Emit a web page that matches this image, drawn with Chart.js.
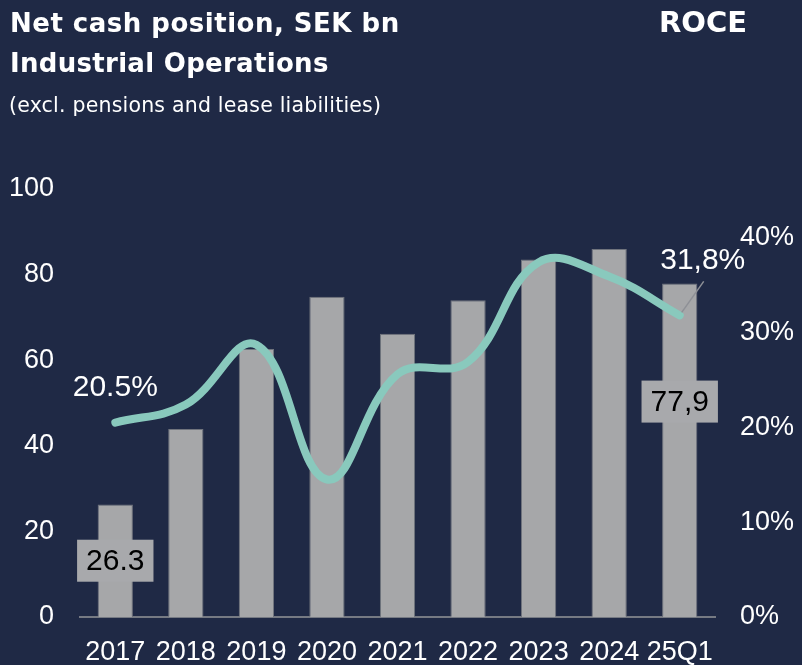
<!DOCTYPE html>
<html>
<head>
<meta charset="utf-8">
<script src="https://cdn.jsdelivr.net/npm/chart.js@4"></script>
<style>
  html, body { margin: 0; padding: 0; background: #1f2945; }
  #wrap { position: relative; width: 802px; height: 665px; overflow: hidden; }
  #chart { position: absolute; left: 0; top: 0; }
  .t { position: absolute; color: #ffffff; font-family: "DejaVu Sans", sans-serif; line-height: 1; white-space: nowrap; }
</style>
</head>
<body>
<div id="wrap">
  <canvas id="chart" width="802" height="665"></canvas>
  <div class="t" style="left:10px; top:10px; font-size:26px; font-weight:700; letter-spacing:0.5px;">Net cash position, SEK bn</div>
  <div class="t" style="left:10px; top:50px; font-size:26px; font-weight:700; letter-spacing:0.3px;">Industrial Operations</div>
  <div class="t" style="left:9px; top:95px; font-size:20.5px; letter-spacing:0.2px;">(excl. pensions and lease liabilities)</div>
  <div class="t" style="left:659px; top:8px; font-size:29px; font-weight:700;">ROCE</div>
</div>
<script>
// Net cash position (SEK bn) and ROCE (%)

const categories = ["2017", "2018", "2019", "2020", "2021", "2022", "2023", "2024", "25Q1"];

const netCash = [26.3, 43.9, 62.6, 74.8, 66.2, 74.0, 83.5, 86.0, 77.9];

const roce = [20.5, 22.4, 28.7, 14.5, 25.6, 26.9, 37.4, 35.9, 31.8];

const leftTicks = [0, 20, 40, 60, 80, 100];
const rightTicks = [0, 10, 20, 30, 40];

// labels written on the chart
const barLabels = { 0: "26.3", 8: "77,9" };
const lineLabels = { 0: "20.5%", 8: "31,8%" };

const tickFont = { family: "'Liberation Sans', Arial, sans-serif", size: 27 };

// ===============================
// Value labels plugin
// ===============================

const labelPlugin = {
    id: "labels",
    afterDatasetsDraw(chart) {
        const ctx = chart.ctx;
        const x = chart.scales.x;
        const yL = chart.scales.y;
        const yR = chart.scales.y2;

        ctx.save();
        ctx.font = "30px 'Liberation Sans', Arial, sans-serif";
        ctx.textBaseline = "middle";
        ctx.textAlign = "center";

        // bar value boxes
        Object.keys(barLabels).forEach(function (k) {
            const i = Number(k);
            const cx = x.getPixelForValue(i);
            let cy;
            if (i === 0) {
                cy = yL.getPixelForValue(netCash[i] / 2);
            } else {
                cy = yL.getPixelForValue(netCash[i]) + 118;
            }
            const w = ctx.measureText(barLabels[k]).width + 18;
            ctx.fillStyle = "#a8a9ac";
            ctx.fillRect(cx - w / 2, cy - 21, w, 42);
            ctx.fillStyle = "#000000";
            ctx.fillText(barLabels[k], cx, cy + 1);
        });

        // line value labels
        ctx.fillStyle = "#ffffff";
        const p0x = x.getPixelForValue(0);
        const p0y = yR.getPixelForValue(roce[0]);
        ctx.fillText(lineLabels[0], p0x, p0y - 35);

        const p8x = x.getPixelForValue(8);
        const p8y = yR.getPixelForValue(roce[8]);
        ctx.fillText(lineLabels[8], p8x + 23, p8y - 55);

        ctx.strokeStyle = "#8e9096";
        ctx.lineWidth = 1.5;
        ctx.beginPath();
        ctx.moveTo(p8x + 24, p8y - 34);
        ctx.lineTo(p8x + 2, p8y - 3);
        ctx.stroke();

        ctx.restore();
    }
};

// ===============================
// Chart
// ===============================

const chart = new Chart(document.getElementById("chart").getContext("2d"), {
    type: "bar",
    data: {
        labels: categories,
        datasets: [
            {
                type: "line",
                label: "ROCE",
                data: roce,
                yAxisID: "y2",
                borderColor: "#89c9bd",
                borderWidth: 8,
                borderCapStyle: "round",
                pointRadius: 0,
                tension: 0.4,
                fill: false,
                order: 0
            },
            {
                label: "Net cash",
                data: netCash,
                yAxisID: "y",
                backgroundColor: "#a6a7a9",
                borderColor: "#70747d",
                borderWidth: 1,
                categoryPercentage: 1,
                barPercentage: 0.5,
                order: 1
            }
        ]
    },
    options: {
        responsive: false,
        animation: false,
        layout: { padding: { top: 189, left: 0, right: 0, bottom: 0 } },
        plugins: {
            legend: { display: false },
            tooltip: { enabled: false }
        },
        scales: {
            x: {
                grid: { display: false, drawTicks: false },
                border: { display: true, color: "#767a83", width: 2 },
                ticks: { color: "#ffffff", font: tickFont, padding: 19, maxRotation: 0, autoSkip: false },
                afterFit: function (s) { s.height = 48; }
            },
            y: {
                position: "left",
                min: 0,
                max: 100,
                grid: { display: false, drawTicks: false },
                border: { display: false },
                ticks: { color: "#ffffff", font: tickFont, padding: 26 },
                afterBuildTicks: function (s) { s.ticks = leftTicks.map(v => ({ value: v })); },
                afterFit: function (s) { s.width = 80; }
            },
            y2: {
                position: "right",
                min: 0,
                max: 45.13,
                grid: { display: false, drawTicks: false },
                border: { display: false },
                ticks: { color: "#ffffff", font: tickFont, padding: 25, callback: v => v + "%" },
                afterBuildTicks: function (s) { s.ticks = rightTicks.map(v => ({ value: v })); },
                afterFit: function (s) { s.width = 87; }
            }
        }
    },
    plugins: [labelPlugin]
});
</script>
</body>
</html>
